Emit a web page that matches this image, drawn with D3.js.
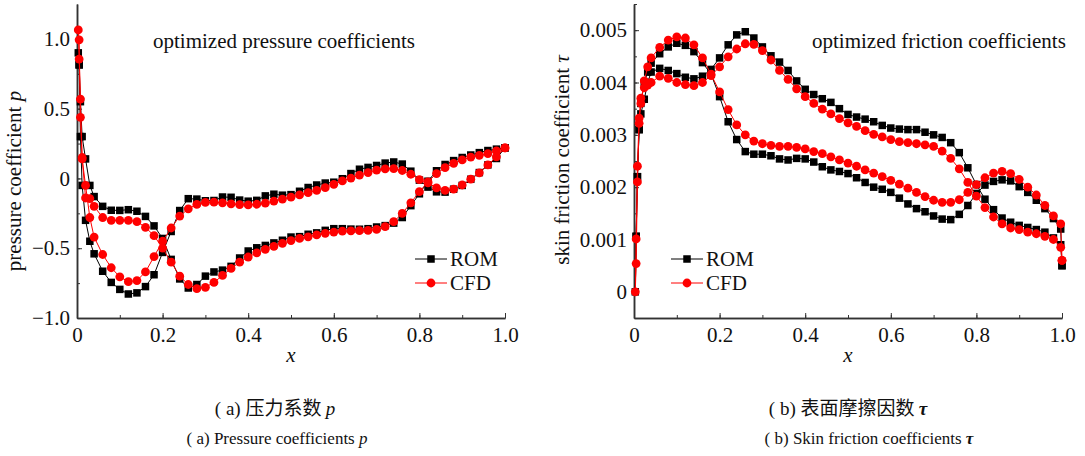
<!DOCTYPE html>
<html>
<head>
<meta charset="utf-8">
<script src="https://cdn.jsdelivr.net/npm/d3@7"></script>
<style>
  body { margin: 0; background: #fff; }
  svg { display: block; }
  text { font-family: "Liberation Serif", "Times New Roman", serif; fill: #111; }
  .cjk { font-family: "Noto Sans CJK SC", sans-serif; }
</style>
</head>
<body>
<svg id="fig" width="1085" height="456"></svg>
<script>
// x grid along the chord (pressure plot)
const xLeft = [0.003, 0.005, 0.008, 0.012, 0.02, 0.03,
  0.04, 0.06, 0.08, 0.10, 0.12, 0.14, 0.16, 0.18, 0.20, 0.22, 0.24, 0.26, 0.28, 0.30,
  0.32, 0.34, 0.36, 0.38, 0.40, 0.42, 0.44, 0.46, 0.48, 0.50, 0.52, 0.54, 0.56, 0.58, 0.60,
  0.62, 0.64, 0.66, 0.68, 0.70, 0.72, 0.74, 0.76, 0.78, 0.80, 0.82, 0.84, 0.86, 0.88, 0.90,
  0.92, 0.94, 0.96, 0.98, 1.00];

// pressure coefficient, branch 1 (plateau then dip near x=0.28)
const romP1 = [0.90, 0.814, 0.55, 0.30, 0.14, -0.05,
  -0.13, -0.20, -0.228, -0.229, -0.224, -0.235, -0.272, -0.34, -0.43, -0.58, -0.72, -0.785, -0.76, -0.70,
  -0.67, -0.657, -0.63, -0.57, -0.52, -0.497, -0.48, -0.462, -0.443, -0.42, -0.417, -0.40, -0.39, -0.372, -0.36,
  -0.36, -0.363, -0.364, -0.36, -0.348, -0.338, -0.32, -0.28, -0.195, -0.11, -0.02, 0.055, 0.10, 0.128, 0.15,
  0.168, 0.185, 0.20, 0.21, 0.219];
// pressure coefficient, branch 2 (dip near x=0.12 then upper plateau)
const romP2 = [0.90, 0.814, 0.30, -0.05, -0.30, -0.45,
  -0.54, -0.665, -0.745, -0.795, -0.828, -0.82, -0.775, -0.69, -0.53, -0.38, -0.23, -0.145, -0.148, -0.16,
  -0.158, -0.133, -0.135, -0.155, -0.163, -0.157, -0.125, -0.113, -0.12, -0.116, -0.092, -0.065, -0.047, -0.033, -0.027,
  -0.002, 0.035, 0.066, 0.079, 0.093, 0.11, 0.118, 0.103, 0.052, -0.012, -0.062, -0.096, -0.098, -0.077, -0.05,
  -0.006, 0.042, 0.097, 0.143, 0.219];
const cfdP1 = [1.064, 0.855, 0.569, 0.15, -0.14, -0.145,
  -0.20, -0.28, -0.30, -0.30, -0.30, -0.31, -0.35, -0.41, -0.50, -0.60, -0.70, -0.76, -0.79, -0.78,
  -0.745, -0.695, -0.645, -0.60, -0.563, -0.533, -0.508, -0.487, -0.465, -0.445, -0.43, -0.418, -0.405, -0.393, -0.384,
  -0.378, -0.375, -0.374, -0.372, -0.365, -0.345, -0.31, -0.25, -0.175, -0.095, -0.025, 0.035, 0.077, 0.108, 0.133,
  0.153, 0.166, 0.178, 0.198, 0.219];
const cfdP2 = [1.064, 0.993, 0.438, 0.14, -0.05, -0.28,
  -0.42, -0.545, -0.64, -0.705, -0.74, -0.732, -0.67, -0.56, -0.45, -0.355, -0.27, -0.218, -0.186, -0.172,
  -0.17, -0.175, -0.182, -0.187, -0.19, -0.185, -0.177, -0.162, -0.148, -0.134, -0.118, -0.102, -0.085, -0.066, -0.042,
  -0.018, 0.003, 0.024, 0.042, 0.06, 0.069, 0.07, 0.057, 0.03, -0.008, -0.032, -0.067, -0.086, -0.077, -0.047,
  -0.005, 0.04, 0.097, 0.155, 0.219];

// x grid along the chord (friction plot)
const xRight = [0.003, 0.005, 0.008, 0.012, 0.016, 0.024, 0.032,
  0.04, 0.06, 0.08, 0.10, 0.12, 0.14, 0.16, 0.18, 0.20, 0.22, 0.24, 0.26, 0.28, 0.30,
  0.32, 0.34, 0.36, 0.38, 0.40, 0.42, 0.44, 0.46, 0.48, 0.50, 0.52, 0.54, 0.56, 0.58, 0.60,
  0.62, 0.64, 0.66, 0.68, 0.70, 0.72, 0.74, 0.76, 0.78, 0.80, 0.82, 0.84, 0.86, 0.88, 0.90,
  0.92, 0.94, 0.96, 0.98, 0.997, 1.00];

const romT1 = [0, 0.00106, 0.0022, 0.0031, 0.0036, 0.0040, 0.0042,
  0.00437, 0.00455, 0.00468, 0.00475, 0.00471, 0.00459, 0.00438, 0.00416, 0.00373, 0.00325, 0.00291, 0.00268, 0.00263, 0.00263,
  0.0026, 0.00254, 0.00252, 0.00255, 0.00254, 0.00248, 0.00239, 0.00233, 0.0023, 0.00226, 0.00218, 0.00209, 0.002, 0.00196, 0.0019,
  0.00179, 0.00168, 0.00159, 0.00153, 0.00145, 0.00139, 0.00138, 0.00148, 0.00165, 0.00188, 0.00204, 0.00211, 0.00214, 0.00212, 0.00201,
  0.0019, 0.00175, 0.00159, 0.0014, 0.0012, 0.0005];
const romT2 = [0, 0.00106, 0.0022, 0.0031, 0.0034, 0.00368, 0.0040,
  0.0042, 0.00427, 0.00423, 0.00417, 0.0041, 0.00407, 0.00412, 0.00425, 0.00447, 0.00472, 0.00491, 0.00497, 0.00485, 0.00468,
  0.00451, 0.00439, 0.00423, 0.00403, 0.00387, 0.00377, 0.00369, 0.00362, 0.0035, 0.00339, 0.00334, 0.0033, 0.00325, 0.00318, 0.00313,
  0.00311, 0.0031, 0.0031, 0.00305, 0.003, 0.00295, 0.00285, 0.00266, 0.00237, 0.00205, 0.00177, 0.00157, 0.00141, 0.00133, 0.00127,
  0.00123, 0.00119, 0.00114, 0.00103, 0.0009, 0.0005];
const cfdT1 = [0, 0.00054, 0.0021, 0.00322, 0.0036, 0.00403, 0.0043,
  0.00447, 0.00467, 0.00481, 0.00487, 0.00485, 0.00472, 0.00447, 0.00416, 0.00382, 0.00348, 0.00319, 0.003, 0.00288, 0.00283,
  0.0028, 0.00278, 0.00278, 0.00276, 0.00273, 0.00268, 0.00264, 0.00258, 0.00252, 0.00246, 0.0024, 0.00233, 0.00227, 0.0022, 0.00213,
  0.00206, 0.00198, 0.0019, 0.00182, 0.00175, 0.00171, 0.00171, 0.00176, 0.0019, 0.00205, 0.00218, 0.00227, 0.0023, 0.00226, 0.00215,
  0.002, 0.00185, 0.00165, 0.00145, 0.0013, 0.0006];
const cfdT2 = [0, 0.00101, 0.0024, 0.00332, 0.0037, 0.0039, 0.00395,
  0.004, 0.00412, 0.00408, 0.004, 0.00396, 0.00394, 0.004, 0.00413, 0.0043, 0.00449, 0.00464, 0.00474, 0.00473, 0.00461,
  0.00443, 0.00423, 0.00406, 0.00388, 0.00373, 0.0036, 0.00349, 0.0034, 0.00331, 0.00323, 0.00316, 0.00308, 0.00301, 0.00296, 0.00291,
  0.00287, 0.00285, 0.00283, 0.00281, 0.00278, 0.00269, 0.00255, 0.00235, 0.00209, 0.00183, 0.00161, 0.00143, 0.0013, 0.00122, 0.00119,
  0.00114, 0.00111, 0.00106, 0.001, 0.00085, 0.0006];

const xTicks = [0, 0.2, 0.4, 0.6, 0.8, 1.0];
const pTicks = [-1.0, -0.5, 0, 0.5, 1.0];
const tauTicks = [0, 0.001, 0.002, 0.003, 0.004, 0.005];

const svg = d3.select("#fig");
const fmtMinus = s => s.replace("-", "\u2212");
const serif = "'Liberation Serif', 'Times New Roman', serif";

function drawPanel(cfg) {
    const x = d3.scaleLinear().domain([0, 1]).range([cfg.left, cfg.left + 428]);
    const y = d3.scaleLinear().domain(cfg.yDomain).range([318, 4]);
    const g = svg.append("g");

    // minor + major ticks, pointing inward
    const xMinor = d3.range(0, 1.0001, 0.1);
    g.append("g").attr("transform", "translate(0,318)")
        .call(d3.axisBottom(x).tickValues(xMinor).tickSize(-3).tickSizeOuter(0).tickFormat(""));
    g.append("g").attr("transform", "translate(0,318)")
        .call(d3.axisBottom(x).tickValues(xTicks).tickSize(-5).tickSizeOuter(0).tickPadding(9)
            .tickFormat(d => d === 0 ? "0" : d3.format(".1f")(d)));
    g.append("g").attr("transform", `translate(${cfg.left},0)`)
        .call(d3.axisLeft(y).tickValues(cfg.minorTicks).tickSize(-3).tickSizeOuter(0).tickFormat(""));
    g.append("g").attr("transform", `translate(${cfg.left},0)`)
        .call(d3.axisLeft(y).tickValues(cfg.ticks).tickSize(-5).tickSizeOuter(0).tickPadding(7).tickFormat(cfg.fmt));
    g.selectAll("g").attr("font-family", serif).attr("font-size", 21);
    g.selectAll(".domain").attr("stroke", "#333").attr("stroke-width", 1.5);
    g.selectAll(".tick line").attr("stroke", "#333").attr("stroke-width", 1);
    g.selectAll(".tick text").attr("fill", "#111");

    const line = d3.line().x(d => x(d[0])).y(d => y(d[1]));
    const loop = (a, b) => {
        const s1 = cfg.xs.map((v, i) => [v, a[i]]).reverse();
        const s2 = cfg.xs.map((v, i) => [v, b[i]]).slice(1);
        return s1.concat(s2);
    };
    const rom = loop(cfg.rom1, cfg.rom2);
    const cfd = loop(cfg.cfd1, cfg.cfd2);

    g.append("path").attr("d", line(rom)).attr("fill", "none").attr("stroke", "#000").attr("stroke-width", 1);
    g.selectAll(".rom").data(rom).join("rect").attr("class", "rom")
        .attr("x", d => x(d[0]) - 3.75).attr("y", d => y(d[1]) - 3.75).attr("width", 7.5).attr("height", 7.5).attr("fill", "#000");
    g.append("path").attr("d", line(cfd)).attr("fill", "none").attr("stroke", "#ff0000").attr("stroke-width", 1);
    g.selectAll(".cfd").data(cfd).join("circle").attr("class", "cfd")
        .attr("cx", d => x(d[0])).attr("cy", d => y(d[1])).attr("r", 4.4).attr("fill", "#ff0000");

    // legend
    const lg = g.append("g").attr("transform", `translate(${cfg.legendX},0)`);
    [["ROM", "#000", 259], ["CFD", "#ff0000", 283]].forEach(([name, col, yy]) => {
        lg.append("line").attr("x1", 0).attr("x2", 32).attr("y1", yy).attr("y2", yy).attr("stroke", col).attr("stroke-width", 1);
        if (name === "ROM") lg.append("rect").attr("x", 12.25).attr("y", yy - 3.75).attr("width", 7.5).attr("height", 7.5).attr("fill", col);
        else lg.append("circle").attr("cx", 16).attr("cy", yy).attr("r", 4.4).attr("fill", col);
        lg.append("text").attr("x", 35).attr("y", yy + 7).style("font-size", "21px").text(name);
    });

    // titles and axis labels
    g.append("text").attr("x", cfg.titleX).attr("y", 48).style("font-size", "21px").text(cfg.title);
    g.append("text").attr("x", cfg.left + 214).attr("y", 362).attr("text-anchor", "middle")
        .style("font-size", "21px").style("font-style", "italic").text("x");
    const yl = g.append("text").attr("transform", `translate(${cfg.yLabelX},${cfg.yLabelY}) rotate(-90)`)
        .attr("text-anchor", "middle").style("font-size", "21px");
    yl.append("tspan").text(cfg.yLabel + " ");
    yl.append("tspan").style("font-style", "italic").text(cfg.ySym);
}

drawPanel({
    left: 77, yDomain: [-1.0, 1.25], ticks: pTicks, minorTicks: d3.range(-1, 1.001, 0.25),
    fmt: d => d === 0 ? "0" : fmtMinus(d3.format(".1f")(d)),
    xs: xLeft, rom1: romP1, rom2: romP2, cfd1: cfdP1, cfd2: cfdP2,
    legendX: 415, title: "optimized pressure coefficients", titleX: 153,
    yLabel: "pressure coefficient", ySym: "p", yLabelX: 21, yLabelY: 181
});

drawPanel({
    left: 634, yDomain: [-0.0005, 0.0055], ticks: tauTicks, minorTicks: d3.range(0, 0.00551, 0.0005),
    fmt: d => d === 0 ? "0" : d3.format(".3f")(d),
    xs: xRight, rom1: romT1, rom2: romT2, cfd1: cfdT1, cfd2: cfdT2,
    legendX: 671, title: "optimized friction coefficients", titleX: 812,
    yLabel: "skin friction coefficient", ySym: "\u03c4", yLabelX: 569, yLabelY: 160
});

// captions
const cap = svg.append("g").attr("text-anchor", "middle");
const capA1 = cap.append("text").attr("x", 275).attr("y", 415).style("font-size", "19px");
capA1.append("tspan").text("( a)  ");
capA1.append("tspan").attr("class", "cjk").text("压力系数 ");
capA1.append("tspan").style("font-style", "italic").text("p");
const capA2 = cap.append("text").attr("x", 277).attr("y", 444).style("font-size", "17px");
capA2.append("tspan").text("( a)  Pressure coefficients ");
capA2.append("tspan").style("font-style", "italic").text("p");
const capB1 = cap.append("text").attr("x", 848).attr("y", 415).style("font-size", "19px");
capB1.append("tspan").text("( b)  ");
capB1.append("tspan").attr("class", "cjk").text("表面摩擦因数 ");
capB1.append("tspan").style("font-style", "italic").style("font-weight", "bold").text("\u03c4");
const capB2 = cap.append("text").attr("x", 869).attr("y", 444).style("font-size", "17px");
capB2.append("tspan").text("( b)  Skin friction coefficients ");
capB2.append("tspan").style("font-style", "italic").style("font-weight", "bold").text("\u03c4");
</script>
</body>
</html>
